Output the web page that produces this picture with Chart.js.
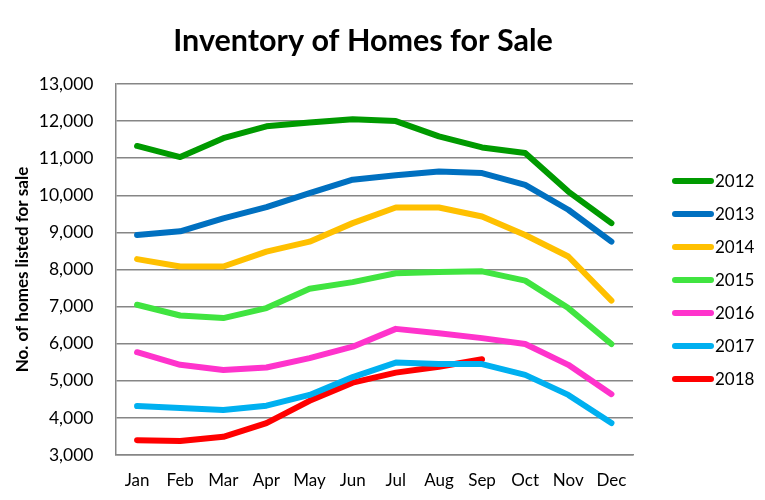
<!DOCTYPE html>
<html>
<head>
<meta charset="utf-8">
<script src="https://cdn.jsdelivr.net/npm/chart.js@4.4.1/dist/chart.umd.min.js"></script>
<style>
  html, body { margin: 0; padding: 0; background: #fff; }
  #wrap { width: 765px; height: 500px; }
</style>
</head>
<body>
<div id="wrap"><canvas id="myChart" width="765" height="500"></canvas></div>
<script>
const months = ['Jan', 'Feb', 'Mar', 'Apr', 'May', 'Jun', 'Jul', 'Aug', 'Sep', 'Oct', 'Nov', 'Dec'];
const years = ['2012', '2013', '2014', '2015', '2016', '2017', '2018'];
const colors = ['#009a00', '#0070c0', '#ffc000', '#40e440', '#ff33cc', '#00b0f0', '#ff0000'];

const inv2012 = [11330, 11030, 11540, 11860, 11960, 12050, 12000, 11590, 11290, 11140, 10100, 9250];
const inv2013 = [8930, 9030, 9380, 9680, 10060, 10420, 10540, 10640, 10600, 10280, 9610, 8750];
const inv2014 = [8280, 8080, 8080, 8480, 8750, 9250, 9670, 9670, 9430, 8930, 8350, 7160];
const inv2015 = [7050, 6760, 6690, 6960, 7480, 7660, 7900, 7930, 7950, 7700, 6960, 5990];
const inv2016 = [5770, 5430, 5290, 5360, 5610, 5920, 6400, 6280, 6150, 5990, 5430, 4640];
const inv2017 = [4320, 4270, 4210, 4330, 4620, 5100, 5490, 5450, 5450, 5160, 4620, 3860];
const inv2018 = [3400, 3380, 3490, 3860, 4460, 4950, 5220, 5380, 5580];

const yTicks = [3000, 4000, 5000, 6000, 7000, 8000, 9000, 10000, 11000, 12000, 13000];

const series = [inv2012, inv2013, inv2014, inv2015, inv2016, inv2017, inv2018];
const font = 'Lato, "Open Sans", sans-serif';

// title across the whole canvas and legend on the right
const sideLegend = {
    id: 'sideLegend',
    afterDraw(chart) {
        const { ctx } = chart;
        ctx.save();
        ctx.fillStyle = '#000';
        ctx.font = 'bold 30.5px ' + font;
        ctx.textAlign = 'center';
        ctx.textBaseline = 'alphabetic';
        ctx.fillText('Inventory of Homes for Sale', 363, 51);

        ctx.font = '17px ' + font;
        ctx.textBaseline = 'middle';
        ctx.textAlign = 'left';
        chart.data.datasets.forEach((ds, i) => {
            const y = 181 + i * 33;
            ctx.beginPath();
            ctx.moveTo(675, y);
            ctx.lineTo(711, y);
            ctx.lineWidth = 6;
            ctx.lineCap = 'round';
            ctx.strokeStyle = ds.borderColor;
            ctx.stroke();
            ctx.fillStyle = '#000';
            ctx.fillText(ds.label, 715, y + 1);
        });
        ctx.restore();
    }
};

new Chart(document.getElementById('myChart'), {
    type: 'line',
    data: {
        labels: months,
        datasets: years.map((y, i) => ({
            label: y,
            data: series[i],
            borderColor: colors[i],
            backgroundColor: colors[i],
            borderWidth: 6,
            borderCapStyle: 'round',
            borderJoinStyle: 'round',
            pointRadius: 0,
            tension: 0
        }))
    },
    options: {
        responsive: false,
        animation: false,
        layout: { padding: { left: 0, right: 132, top: 84, bottom: 0 } },
        plugins: {
            legend: { display: false },
            tooltip: { enabled: false },
            title: { display: false }
        },
        scales: {
            x: {
                offset: true,
                afterFit(scale) { scale.height = 45; },
                grid: { display: false, drawTicks: false },
                border: { display: true, color: '#868686', width: 1.5 },
                ticks: { color: '#000', font: { family: font, size: 17 }, padding: 15 }
            },
            y: {
                min: 3000,
                max: 13000,
                afterFit(scale) { scale.width = 115.5; },
                afterBuildTicks(scale) { scale.ticks = yTicks.map(v => ({ value: v })); },
                grid: { color: '#868686', lineWidth: 1.5, drawTicks: false },
                border: { display: true, color: '#868686', width: 1.5 },
                ticks: {
                    color: '#000',
                    font: { family: font, size: 17.5 },
                    padding: 22,
                    callback: v => v.toLocaleString('en-US')
                },
                title: {
                    display: true,
                    text: 'No. of homes listed for sale',
                    color: '#000',
                    font: { family: font, size: 17, weight: 'bold' },
                    padding: { top: 12, bottom: 0 }
                }
            }
        }
    },
    plugins: [sideLegend]
});
</script>
</body>
</html>
